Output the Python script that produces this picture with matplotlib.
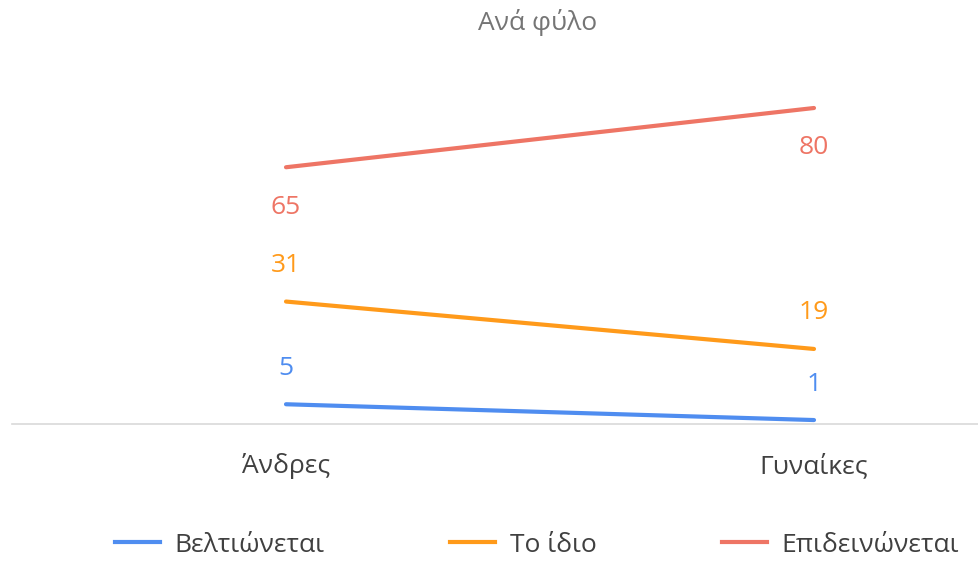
import matplotlib.pyplot as plt
from matplotlib.lines import Line2D

plt.rcParams['font.family'] = ['Open Sans', 'DejaVu Sans']

categories = ['Άνδρες', 'Γυναίκες']
series_names = ['Βελτιώνεται', 'Το ίδιο', 'Επιδεινώνεται']
improves = [5, 1]
same = [31, 19]
worse = [65, 80]
colors = ['#4F8DF0', '#FF9A1A', '#EE7565']

W, H = 979, 561
fig = plt.figure(figsize=(W / 100, H / 100), dpi=100)
# axes: x from 12px to 979px, y from baseline 424px up to 80px
ax = fig.add_axes([12 / W, (H - 424) / H, (W - 12) / W, (424 - 80) / H])

x = [0, 1]
all_series = [improves, same, worse]
for vals, col in zip(all_series, colors):
    ax.plot(x, vals, color=col, lw=3, solid_capstyle='round')

fs = 19

# data labels: red below, others above
for vals, col, below in zip(all_series, colors, [False, False, True]):
    for xi, v in zip(x, vals):
        off = -40 if below else 36
        ax.annotate(str(v), (xi, v), xytext=(0, off), textcoords='offset pixels',
                    ha='center', va='center', color=col, fontsize=fs)

ax.set_xlim((12 - 286) / 528, (979 - 286) / 528)
ax.set_ylim(0, (424 - 80) / 3.95)
ax.set_xticks(x)
ax.set_xticklabels(categories, fontsize=fs, color='#404040')
ax.tick_params(axis='x', length=0, pad=21)
ax.set_yticks([])
for s in ['top', 'right', 'left']:
    ax.spines[s].set_visible(False)
ax.spines['bottom'].set_color('#D9D9D9')
ax.spines['bottom'].set_linewidth(1.2)

fig.text(538 / W, 1 - 22 / H, 'Ανά φύλο', ha='center', va='center',
         fontsize=fs, color='#757575')

handles = [Line2D([], [], color=c, lw=3) for c in colors]
fig.legend(handles, series_names, loc='center', ncol=3,
           bbox_to_anchor=(537 / W, 1 - 545 / H), frameon=False,
           fontsize=fs, handlelength=1.7, handletextpad=0.55,
           columnspacing=4.75, labelcolor='#404040')

fig.savefig('out.png', dpi=100)
